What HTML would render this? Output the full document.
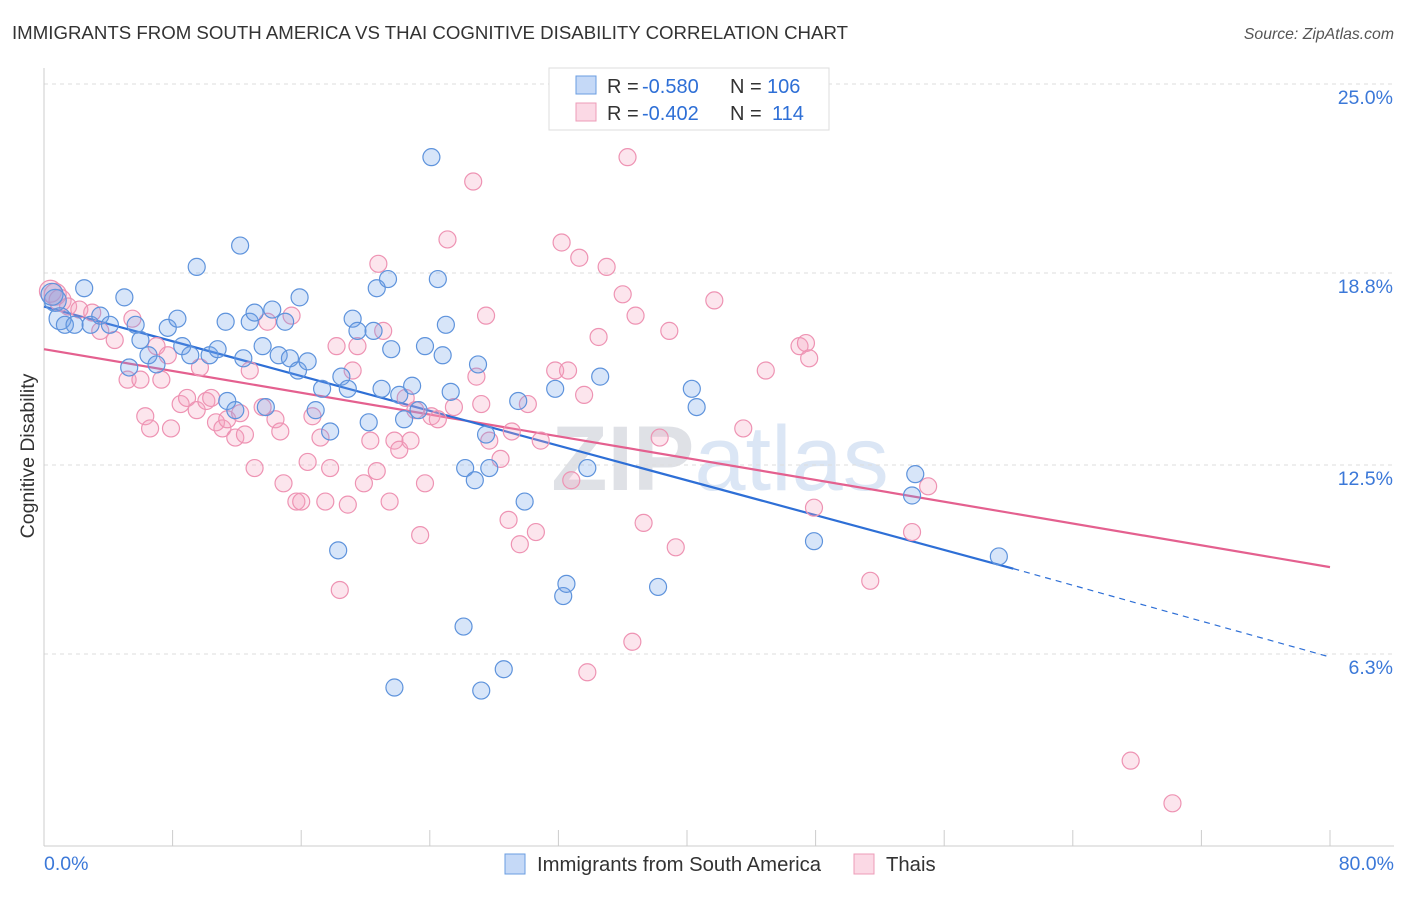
<!DOCTYPE html>
<html><head><meta charset="utf-8"><style>
body{margin:0;background:#fff;font-family:"Liberation Sans",sans-serif}
svg text{font-family:"Liberation Sans",sans-serif}
</style></head><body>
<svg id="chart" width="1406" height="892" viewBox="0 0 1406 892">
<text x="12" y="39" font-size="18.6" fill="#333" textLength="836" lengthAdjust="spacingAndGlyphs">IMMIGRANTS FROM SOUTH AMERICA VS THAI COGNITIVE DISABILITY CORRELATION CHART</text>
<text x="1394" y="39" font-size="15.8" fill="#555" text-anchor="end" font-style="italic">Source: ZipAtlas.com</text>
<text x="720" y="490" font-size="92" fill="#e6e8ee" text-anchor="middle" font-family="Liberation Serif"><tspan font-weight="bold" fill="#dfe1e6">ZIP</tspan><tspan fill="#dbe6f5" font-family="Liberation Sans">atlas</tspan></text>
<g id="grid"></g>
<g id="axes"></g>
<g id="lines"></g>
<g id="pts"></g>
<text transform="translate(34,456) rotate(-90)" font-size="19.5" fill="#333" text-anchor="middle">Cognitive Disability</text>
<g>
<rect x="549" y="68" width="280" height="62" fill="#fff" stroke="#ddd"/>
<rect x="576" y="76" width="20" height="18" fill="rgba(110,160,235,0.4)" stroke="#6a9de0"/>
<rect x="576" y="103" width="20" height="18" fill="rgba(245,160,190,0.4)" stroke="#ee9cb8"/>
<text x="607" y="93" font-size="20" fill="#333">R =</text>
<text x="642" y="93" font-size="20" fill="#2e6fd6">-0.580</text>
<text x="730" y="93" font-size="20" fill="#333">N =</text>
<text x="767" y="93" font-size="20" fill="#2e6fd6">106</text>
<text x="607" y="120" font-size="20" fill="#333">R =</text>
<text x="642" y="120" font-size="20" fill="#2e6fd6">-0.402</text>
<text x="730" y="120" font-size="20" fill="#333">N =</text>
<text x="772" y="120" font-size="20" fill="#2e6fd6">114</text>
</g>
<g>
<rect x="505" y="854" width="20" height="20" fill="rgba(110,160,235,0.4)" stroke="#6a9de0"/>
<text x="537" y="871" font-size="20.3" fill="#333">Immigrants from South America</text>
<rect x="854" y="854" width="20" height="20" fill="rgba(245,160,190,0.4)" stroke="#ee9cb8"/>
<text x="886" y="871" font-size="20.3" fill="#333">Thais</text>
</g>
</svg>
<script>
const yTicks=[25,18.8,12.5,6.3];
const yTickLabels=["25.0%","18.8%","12.5%","6.3%"];
const xTicks=[0,8,16,24,32,40,48,56,64,72,80];
const blueX=[0.7,1.0,0.5,1.3,1.9,2.5,2.9,3.5,4.1,5.0,5.7,6.0,6.5,5.3,7.0,7.7,8.3,8.6,9.1,9.5,10.3,10.8,11.3,11.4,11.9,12.2,12.4,12.8,13.1,13.6,13.8,14.2,14.6,15.0,15.3,15.8,15.9,16.4,16.9,17.3,17.8,18.3,18.5,18.9,19.2,19.5,20.2,20.5,20.7,21.0,21.4,21.6,21.8,22.1,22.4,22.9,23.3,23.7,24.1,24.5,24.8,25.0,25.3,26.1,26.2,26.8,27.0,27.2,27.5,27.7,28.6,29.5,29.9,31.8,32.3,32.5,33.8,34.6,38.2,40.3,40.6,47.9,54.0,54.2,59.4];
const blueY=[17.9,17.3,18.1,17.1,17.1,18.3,17.1,17.4,17.1,18.0,17.1,16.6,16.1,15.7,15.8,17.0,17.3,16.4,16.1,19.0,16.1,16.3,17.2,14.6,14.3,19.7,16.0,17.2,17.5,16.4,14.4,17.6,16.1,17.2,16.0,15.6,18.0,15.9,14.3,15.0,13.6,9.7,15.4,15.0,17.3,16.9,13.9,16.9,18.3,15.0,18.6,16.3,5.2,14.8,14.0,15.1,14.3,16.4,22.6,18.6,16.1,17.1,14.9,7.2,12.4,12.0,15.8,5.1,13.5,12.4,5.8,14.6,11.3,15.0,8.2,8.6,12.4,15.4,8.5,15.0,14.4,10.0,11.5,12.2,9.5];
const pinkX=[0.4,0.7,1.0,1.5,2.2,3.0,3.5,4.4,5.2,5.5,6.0,6.3,6.6,7.0,7.3,7.7,7.9,8.5,8.9,9.5,9.7,10.1,10.4,10.7,11.1,11.4,11.9,12.2,12.5,12.8,13.1,13.6,13.9,14.4,14.7,14.9,15.4,15.7,16.0,16.4,16.7,17.2,17.5,17.8,18.2,18.4,18.9,19.2,19.5,19.9,20.3,20.7,20.8,21.1,21.5,21.8,22.1,22.5,22.8,23.1,23.4,23.7,24.1,24.5,25.1,25.5,26.7,26.9,27.2,27.5,27.7,28.4,28.9,29.1,29.6,30.1,30.6,30.9,31.8,32.2,32.6,32.8,33.3,33.6,33.8,34.5,35.0,36.0,36.3,36.6,36.8,37.3,38.3,38.9,39.3,41.7,43.5,44.9,47.0,47.4,47.6,47.9,51.4,54.0,55.0,67.6,70.2];
const pinkY=[18.2,18.1,17.9,17.7,17.6,17.5,16.9,16.6,15.3,17.3,15.3,14.1,13.7,16.4,15.3,16.1,13.7,14.5,14.7,14.3,15.7,14.6,14.7,13.9,13.7,14.0,13.4,14.2,13.5,15.6,12.4,14.4,17.2,14.0,13.6,11.9,17.4,11.3,11.3,12.6,14.1,13.4,11.3,12.4,16.4,8.4,11.2,15.6,16.4,11.9,13.3,12.3,19.1,16.9,11.3,13.3,13.0,14.7,13.3,14.3,10.2,11.9,14.1,14.0,19.9,14.4,21.8,15.4,14.5,17.4,13.3,12.7,10.7,13.6,9.9,14.5,10.3,13.3,15.6,19.8,15.6,12.0,19.3,14.8,5.7,16.7,19.0,18.1,22.6,6.7,17.4,10.6,13.4,16.9,9.8,17.9,13.7,15.6,16.4,16.5,16.0,11.1,8.7,10.3,11.8,2.8,1.4];
const blueTrend=[[0,17.7],[60.3,9.1]];
const blueTrendExt=[[60.3,9.1],[80,6.2]];
const pinkTrend=[[0,16.3],[80,9.15]];
const X0=44,X1=1330,Y0=846,YT=84;
const sx=v=>X0+(X1-X0)*v/80;
const sy=v=>Y0-(Y0-YT)*v/25;
const NS="http://www.w3.org/2000/svg";
function mk(tag,attrs,parent){const e=document.createElementNS(NS,tag);for(const k in attrs)e.setAttribute(k,attrs[k]);document.getElementById(parent).appendChild(e);return e;}
yTicks.forEach((t,i)=>{
 const g=mk('line',{x1:X0,x2:1394,y1:sy(t),y2:sy(t),stroke:'#ddd','stroke-dasharray':'4,4'},'grid');
 
 
 const l=mk('text',{x:1393,y:sy(t)+20,'font-size':19.5,fill:'#3b78d8','text-anchor':'end'},'axes');
 l.textContent=yTickLabels[i];
 
 
});
const ax=mk('line',{x1:X0,x2:X0,y1:68,y2:Y0,stroke:'#ccc'},'axes');


const bx=mk('line',{x1:X0,x2:1394,y1:Y0,y2:Y0,stroke:'#ccc'},'axes');


xTicks.forEach(t=>{
 const tk=mk('line',{x1:sx(t),x2:sx(t),y1:Y0,y2:Y0-16,stroke:'#ccc'},'axes');
 
 
});
const xl=mk('text',{x:44,y:870,'font-size':19.5,fill:'#3b78d8'},'axes');xl.textContent='0.0%';


const xr=mk('text',{x:1394,y:870,'font-size':19.5,fill:'#3b78d8','text-anchor':'end'},'axes');xr.textContent='80.0%';


function drawPts(xs,ys,fill,stroke,name){
 xs.forEach((x,i)=>{
  const r=(x<1.2)?11:8.5;
  const c=mk('circle',{cx:sx(x),cy:sy(ys[i]),r:r,fill:fill,stroke:stroke,'stroke-width':1.2},'pts');
  
  
 });
}
drawPts(pinkX,pinkY,'rgba(245,160,190,0.28)','#ee93b3','thais-point');
drawPts(blueX,blueY,'rgba(110,160,235,0.28)','#5e93dc','south-america-point');
function line(p,stroke,dash,name){
 const l=mk('line',{x1:sx(p[0][0]),y1:sy(p[0][1]),x2:sx(p[1][0]),y2:sy(p[1][1]),stroke:stroke,'stroke-width':dash?1.2:2.2},'lines');
 if(dash)l.setAttribute('stroke-dasharray','6,5');
 
 
}
line(pinkTrend,'#e4608f',false,'thais-trend-line');
line(blueTrend,'#2e6fd6',false,'south-america-trend-line');
line(blueTrendExt,'#2e6fd6',true,'south-america-trend-extension');
</script>
</body></html>
